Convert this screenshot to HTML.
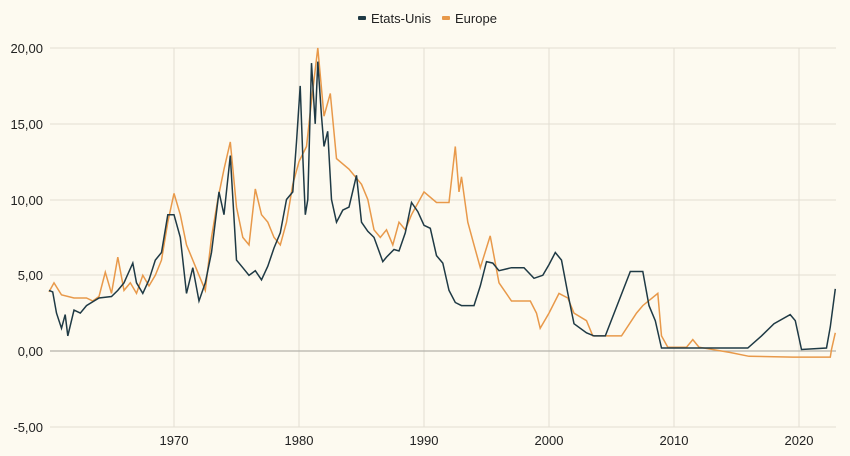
<!DOCTYPE html>
<html><head><meta charset="utf-8"><style>
html,body{margin:0;padding:0;background:#fdfaf0;}
svg{display:block;font-family:"Liberation Sans",sans-serif;}
</style></head><body>
<svg id="c" width="850" height="456" viewBox="0 0 850 456">
<rect width="850" height="456" fill="#fdfaf0"/>
<g stroke="#e2ded2" stroke-width="1">
<line x1="50" x2="836" y1="48" y2="48"/><line x1="50" x2="836" y1="124" y2="124"/>
<line x1="50" x2="836" y1="200" y2="200"/><line x1="50" x2="836" y1="275" y2="275"/>
<line x1="50" x2="836" y1="427" y2="427"/>
<line x1="174" x2="174" y1="48" y2="427"/><line x1="299" x2="299" y1="48" y2="427"/>
<line x1="424" x2="424" y1="48" y2="427"/><line x1="549" x2="549" y1="48" y2="427"/>
<line x1="674" x2="674" y1="48" y2="427"/><line x1="799" x2="799" y1="48" y2="427"/>
</g>
<line x1="50" x2="836" y1="351" y2="351" stroke="#b5b2aa" stroke-width="1.2"/>
<g font-size="13" fill="#222" text-anchor="end">
<text x="43" y="53">20,00</text><text x="43" y="129">15,00</text><text x="43" y="205">10,00</text>
<text x="43" y="280">5,00</text><text x="43" y="356">0,00</text><text x="43" y="432">-5,00</text>
</g>
<g font-size="13" fill="#222" text-anchor="middle">
<text x="174" y="445">1970</text><text x="299" y="445">1980</text><text x="424" y="445">1990</text>
<text x="549" y="445">2000</text><text x="674" y="445">2010</text><text x="799" y="445">2020</text>
</g>
<g font-size="13" fill="#222">
<rect x="358" y="16" width="8" height="4" rx="1" fill="#1f3a45"/><text x="371" y="23">Etats-Unis</text>
<rect x="442" y="16" width="8" height="4" rx="1" fill="#e8994a"/><text x="455" y="23">Europe</text>
</g>
<polyline id="eu" fill="none" stroke="#e8994a" stroke-width="1.5"/>
<polyline id="us" fill="none" stroke="#1f3a45" stroke-width="1.5"/>
</svg>
<script>
function P(a){var s=[];for(var i=0;i<a.length;i+=2){s.push((49+12.5*(a[i]-1960)).toFixed(1)+","+(351-a[i+1]*15.15).toFixed(1));}return s.join(" ");}
var us=[1960,4.0,1960.3,3.9,1960.6,2.5,1961,1.5,1961.3,2.4,1961.5,1.0,1962,2.7,1962.5,2.5,1963,3.0,1964,3.5,1965,3.6,1965.5,4.0,1966,4.5,1966.7,5.8,1967,4.5,1967.5,3.8,1968,4.7,1968.5,6.0,1969,6.5,1969.5,9.0,1970,9.0,1970.5,7.5,1971,3.8,1971.5,5.5,1972,3.3,1972.5,4.5,1973,6.5,1973.6,10.5,1974,9.0,1974.5,12.9,1975,6.0,1975.5,5.5,1976,5.0,1976.5,5.3,1977,4.7,1977.5,5.6,1978,6.8,1978.5,7.8,1979,10.0,1979.5,10.5,1979.8,13.8,1980.1,17.5,1980.3,13.0,1980.5,9.0,1980.7,10.0,1981,19.0,1981.3,15.0,1981.5,19.1,1981.8,15.5,1982,13.5,1982.3,14.5,1982.6,10.0,1983,8.5,1983.5,9.3,1984,9.5,1984.6,11.6,1985,8.5,1985.5,7.9,1986,7.5,1986.7,5.9,1987,6.2,1987.6,6.7,1988,6.6,1988.5,7.8,1989,9.8,1989.5,9.2,1990,8.3,1990.5,8.1,1991,6.3,1991.5,5.8,1992,4.0,1992.5,3.2,1993,3.0,1994,3.0,1994.5,4.3,1995,5.9,1995.5,5.8,1996,5.3,1997,5.5,1998,5.5,1998.8,4.8,1999.5,5.0,2000,5.7,2000.5,6.5,2001,6.0,2001.5,3.8,2002,1.8,2003,1.2,2003.6,1.0,2004.5,1.0,2006.5,5.25,2007.5,5.25,2008,3.0,2008.5,2.0,2009,0.2,2015.9,0.2,2017,1.0,2018,1.8,2019.3,2.4,2019.7,2.0,2020.2,0.1,2022.2,0.2,2022.5,1.6,2022.9,4.1];
var eu=[1960,3.9,1960.4,4.5,1961,3.7,1962,3.5,1963,3.5,1963.5,3.3,1964,3.6,1964.5,5.2,1965,3.8,1965.5,6.2,1966,4.0,1966.5,4.5,1967,3.8,1967.5,5.0,1968,4.3,1968.5,5.0,1969,6.0,1969.5,8.5,1970,10.4,1970.5,9.0,1971,7.0,1971.5,6.0,1972,5.0,1972.5,4.0,1973,7.5,1973.5,10.0,1974,12.0,1974.5,13.8,1975,9.5,1975.5,7.5,1976,7.0,1976.5,10.7,1977,9.0,1977.5,8.5,1978,7.5,1978.5,7.0,1979,8.5,1979.5,11.0,1980,12.5,1980.6,13.5,1981,16.5,1981.5,20.0,1982,15.5,1982.5,17.0,1983,12.7,1984,12.0,1985,11.0,1985.5,10.0,1986,8.0,1986.5,7.5,1987,8.0,1987.5,7.0,1988,8.5,1988.5,8.0,1989,9.0,1990,10.5,1991,9.8,1992,9.8,1992.5,13.5,1992.8,10.5,1993,11.5,1993.5,8.5,1994,7.0,1994.5,5.5,1995.3,7.6,1996,4.5,1997,3.3,1998.5,3.3,1999,2.5,1999.3,1.5,2000,2.5,2000.8,3.8,2001.5,3.5,2002,2.5,2003,2.0,2003.5,1.0,2005.8,1.0,2007,2.5,2007.5,3.0,2008.7,3.8,2009,1.0,2009.5,0.25,2011,0.25,2011.5,0.75,2012,0.25,2014.5,-0.1,2016,-0.35,2019.5,-0.4,2022.5,-0.4,2022.6,0.1,2022.9,1.2];
document.getElementById("us").setAttribute("points",P(us));
document.getElementById("eu").setAttribute("points",P(eu));
</script>
</body></html>
